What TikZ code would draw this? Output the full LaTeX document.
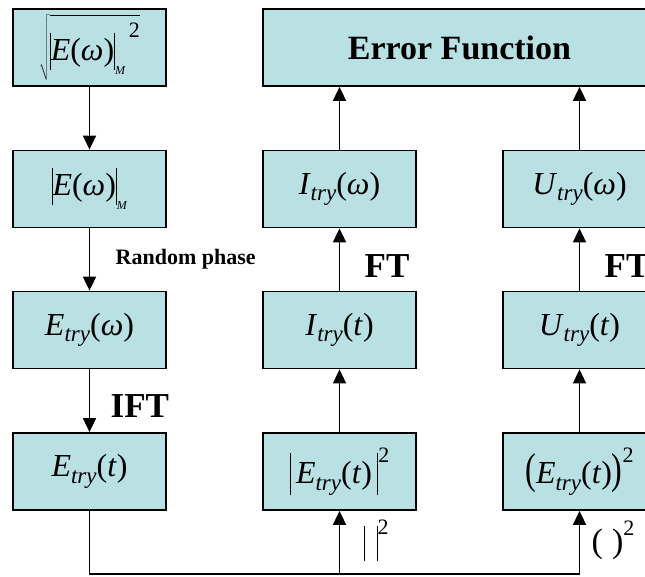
\documentclass[tikz,border=0pt]{standalone}
\usepackage{fontspec}
\setmainfont{Liberation Serif}
\usepackage{xcolor}
\definecolor{boxteal}{RGB}{185, 224, 227}
\usetikzlibrary{arrows.meta, positioning, calc}

% letras de las formulas
\newcommand{\vi}[1]{\textit{#1}}
\newcommand{\trysub}{\raisebox{-0.45ex}{\fontsize{23}{23}\selectfont\textit{try}}}
\newcommand{\tallbar}[2]{\rule[#1]{1pt}{#2}}
\newcommand{\boxfont}{\fontsize{32}{34}\selectfont}

\begin{document}
\begin{tikzpicture}[x=1pt, y=-1pt, >={Triangle[width=13pt, length=14pt]},
    blk/.style={draw, line width=1.8pt, fill=boxteal, minimum width=153pt,
        minimum height=77pt, inner sep=0pt, font=\boxfont},
    arr/.style={->, line width=1.8pt},
    lnk/.style={line width=1.8pt},
    bigl/.style={font=\fontsize{35}{36}\selectfont\bfseries}]

\useasboundingbox (0,0) rectangle (645,576);
\clip (0,0) rectangle (645,576);

% === Columna izquierda ===
\node[blk] (mag2) at (89.5,47.5) {$\sqrt{\hbox{\rule[-0.55em]{0pt}{1.85em}\tallbar{-0.3em}{1.15em}\vi{E}(\vi{ω})\tallbar{-0.3em}{1.15em}\raisebox{-0.45em}{\fontsize{12}{12}\selectfont\vi{M}}\raisebox{0.7em}{\fontsize{22}{22}\selectfont\hspace{3pt}2}}}$};
\node[blk] (mag) at (89.5,189) {\tallbar{-0.3em}{1.15em}\vi{E}(\vi{ω})\tallbar{-0.3em}{1.15em}\raisebox{-0.45em}{\fontsize{12}{12}\selectfont\vi{M}}};
\node[blk] (etw) at (89.5,330) {\vi{E}\trysub(\vi{ω})};
\node[blk] (ett) at (89.5,471.5) {\vi{E}\trysub(\vi{t})};

% === Funcion de error ===
\node[blk, minimum width=393pt, font=\fontsize{34}{36}\selectfont\bfseries] (err) at (459.5,47.5) {Error Function};

% === Columnas I y U ===
\foreach \x/\n/\s in {339.5/i/I, 579.5/u/U} {
    \node[blk] (\n tw) at (\x,189) {\vi{\s}\trysub(\vi{ω})};
    \node[blk] (\n tt) at (\x,330) {\vi{\s}\trysub(\vi{t})};
}
\node[blk] (iabs) at (339.5,471.5) {\tallbar{-0.35em}{1.3em}\,\vi{E}\trysub(\vi{t})\,\tallbar{-0.35em}{1.3em}\raisebox{0.65em}{\fontsize{22}{22}\selectfont 2}};
\node[blk] (usq) at (579.5,471.5) {\scalebox{1}[1.35]{(}\vi{E}\trysub(\vi{t})\scalebox{1}[1.35]{)}\raisebox{0.65em}{\fontsize{22}{22}\selectfont 2}};

% === Flechas ===
\draw[arr] (mag2) -- (mag);
\draw[arr] (mag) -- node[right=22pt, font=\fontsize{22}{24}\selectfont\bfseries] {Random phase} (etw);
\draw[arr] (etw) -- node[right=17pt, yshift=-5pt, bigl] {IFT} (ett);
\foreach \n in {i, u} {
    \draw[arr] (\n tt) -- node[right=21pt, yshift=-7pt, bigl] {FT} (\n tw);
}
\draw[arr] (itw) -- (err.south -| itw);
\draw[arr] (utw) -- (err.south -| utw);
\draw[arr] (itt |- iabs.north) -- (itt);
\draw[arr] (utt |- usq.north) -- (utt);

% === Linea inferior ===
\coordinate (bot) at (89.5,574);
\draw[lnk] (ett) -- (bot) -- (bot -| usq);
\draw[arr] (bot -| iabs) -- node[right=20pt, yshift=2pt, font=\fontsize{32}{34}\selectfont] {\tallbar{-0.3em}{1.1em}\kern12pt\tallbar{-0.3em}{1.1em}\raisebox{0.55em}{\fontsize{22}{22}\selectfont 2}} (iabs);
\draw[arr] (bot -| usq) -- node[right=8pt, yshift=2pt, font=\fontsize{34}{36}\selectfont] {(\kern9pt)\raisebox{0.5em}{\fontsize{22}{22}\selectfont 2}} (usq);

\end{tikzpicture}
\end{document}
